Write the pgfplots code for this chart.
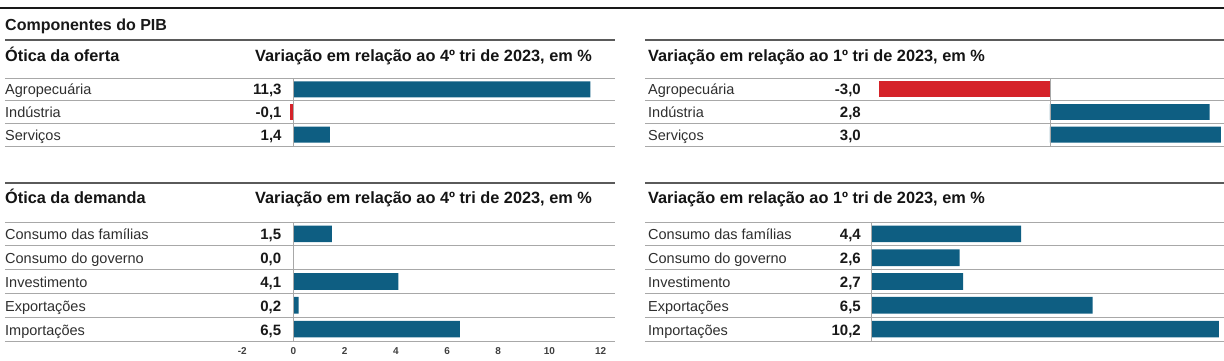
\documentclass[border=0pt]{standalone}
\usepackage{fontspec}
\setmainfont{Liberation Sans}
\usepackage{pgfplots}
\pgfplotsset{compat=1.18}
\definecolor{barblue}{HTML}{0E5E82}
\definecolor{barred}{HTML}{D52229}
\definecolor{rowrule}{HTML}{A8A8A8}
\definecolor{headrule}{HTML}{5A5A5A}
\definecolor{txt}{HTML}{2E2E2E}
\newcommand{\lbl}{\fontsize{14.5}{16}\selectfont\color{txt}}
\newcommand{\val}{\fontsize{15}{16}\selectfont\bfseries\color{black!90}}
\newcommand{\hdr}{\fontsize{16.3}{18}\selectfont\bfseries\color{black!92}}
\pgfplotsset{
  panel/.style={
    scale only axis, anchor=north west, y dir=reverse,
    xbar, bar width=0.7, bar shift=0pt,
    enlargelimits=false, clip=false,
    axis line style={draw=none}, major tick length=0pt,
    ymajorgrids, grid style={rowrule, line width=0.8pt},
    yticklabels={}, xtick=\empty,
  },
}
\begin{document}
\begin{tikzpicture}
\path[use as bounding box] (0pt,0pt) rectangle (1224pt,-360pt);
% title block
\draw[line width=2.8pt, black!90] (0pt,-8pt) -- (1224pt,-8pt);
\node[anchor=base west, inner sep=0pt] at (5pt,-30pt) {\fontsize{16}{18}\selectfont\bfseries\color{black!90}Componentes do PIB};
% header lines
\draw[headrule, line width=1.1pt] (5pt,-40pt) -- (615pt,-40pt);
\draw[headrule, line width=1.1pt] (645pt,-40pt) -- (1224pt,-40pt);
\draw[headrule, line width=1.1pt] (5pt,-183pt) -- (615pt,-183pt);
\draw[headrule, line width=1.1pt] (645pt,-183pt) -- (1224pt,-183pt);
\node[anchor=base west, inner sep=0pt] at (5pt,-61.5pt) {\hdr Ótica da oferta};
\node[anchor=base west, inner sep=0pt] at (255pt,-61.5pt) {\hdr Variação em relação ao 4º tri de 2023, em \%};
\node[anchor=base west, inner sep=0pt] at (648pt,-61.5pt) {\hdr Variação em relação ao 1º tri de 2023, em \%};
\node[anchor=base west, inner sep=0pt] at (5pt,-203pt) {\hdr Ótica da demanda};
\node[anchor=base west, inner sep=0pt] at (255pt,-203pt) {\hdr Variação em relação ao 4º tri de 2023, em \%};
\node[anchor=base west, inner sep=0pt] at (648pt,-203pt) {\hdr Variação em relação ao 1º tri de 2023, em \%};

% ---- top-left: oferta, vs 4o tri 2023
\begin{axis}[panel, at={(5pt,-78pt)}, width=610pt, height=68pt,
  xmin=-10.95, xmax=12.24, ymin=0.5, ymax=3.5, ytick={0.5,1.5,2.5,3.5}]
\addplot[fill=barblue, draw=none] coordinates {(11.3,1) (1.4,3)};
\addplot[fill=barred, draw=none] coordinates {(-0.1,2)};
\draw[rowrule, line width=0.8pt] (axis cs:0,0.5) -- (axis cs:0,3.5);
\node[anchor=base west, inner sep=0pt, yshift=-5.5pt] at (axis cs:-10.95,1) {\lbl Agropecuária};
\node[anchor=base west, inner sep=0pt, yshift=-5.5pt] at (axis cs:-10.95,2) {\lbl Indústria};
\node[anchor=base west, inner sep=0pt, yshift=-5.5pt] at (axis cs:-10.95,3) {\lbl Serviços};
\node[anchor=base east, inner sep=0pt, yshift=-5.5pt] at (axis cs:-0.43,1) {\val 11,3};
\node[anchor=base east, inner sep=0pt, yshift=-5.5pt] at (axis cs:-0.43,2) {\val -0,1};
\node[anchor=base east, inner sep=0pt, yshift=-5.5pt] at (axis cs:-0.43,3) {\val 1,4};
\end{axis}

% ---- top-right: oferta, vs 1o tri 2023
\begin{axis}[panel, at={(645pt,-78pt)}, width=579pt, height=68pt,
  xmin=-7.105, xmax=3.053, ymin=0.5, ymax=3.5, ytick={0.5,1.5,2.5,3.5}]
\addplot[fill=barblue, draw=none] coordinates {(2.8,2) (3.0,3)};
\addplot[fill=barred, draw=none] coordinates {(-3.0,1)};
\draw[rowrule, line width=0.8pt] (axis cs:0,0.5) -- (axis cs:0,3.5);
\node[anchor=base west, inner sep=0pt, xshift=3pt, yshift=-5.5pt] at (axis cs:-7.105,1) {\lbl Agropecuária};
\node[anchor=base west, inner sep=0pt, xshift=3pt, yshift=-5.5pt] at (axis cs:-7.105,2) {\lbl Indústria};
\node[anchor=base west, inner sep=0pt, xshift=3pt, yshift=-5.5pt] at (axis cs:-7.105,3) {\lbl Serviços};
\node[anchor=base east, inner sep=0pt, yshift=-5.5pt] at (axis cs:-3.316,1) {\val -3,0};
\node[anchor=base east, inner sep=0pt, yshift=-5.5pt] at (axis cs:-3.316,2) {\val 2,8};
\node[anchor=base east, inner sep=0pt, yshift=-5.5pt] at (axis cs:-3.316,3) {\val 3,0};
\end{axis}

% ---- bottom-left: demanda, vs 4o tri 2023
\begin{axis}[panel, at={(5pt,-222pt)}, width=610pt, height=119pt,
  xmin=-11.27, xmax=12.56, ymin=0.5, ymax=5.5, ytick={0.5,1.5,2.5,3.5,4.5,5.5},
  xtick={-2,0,2,4,6,8,10,12},
  xticklabel style={font=\fontsize{10}{11}\selectfont\bfseries, text=black!75, anchor=base, yshift=-13pt},
  /pgf/number format/assume math mode=true]
\addplot[fill=barblue, draw=none] coordinates {(1.5,1) (0.0,2) (4.1,3) (0.2,4) (6.5,5)};
\draw[rowrule, line width=0.8pt] (axis cs:0,0.5) -- (axis cs:0,5.5);
\node[anchor=base west, inner sep=0pt, yshift=-6pt] at (axis cs:-11.27,1) {\lbl Consumo das famílias};
\node[anchor=base west, inner sep=0pt, yshift=-6pt] at (axis cs:-11.27,2) {\lbl Consumo do governo};
\node[anchor=base west, inner sep=0pt, yshift=-6pt] at (axis cs:-11.27,3) {\lbl Investimento};
\node[anchor=base west, inner sep=0pt, yshift=-6pt] at (axis cs:-11.27,4) {\lbl Exportações};
\node[anchor=base west, inner sep=0pt, yshift=-6pt] at (axis cs:-11.27,5) {\lbl Importações};
\node[anchor=base east, inner sep=0pt, yshift=-6pt] at (axis cs:-0.47,1) {\val 1,5};
\node[anchor=base east, inner sep=0pt, yshift=-6pt] at (axis cs:-0.47,2) {\val 0,0};
\node[anchor=base east, inner sep=0pt, yshift=-6pt] at (axis cs:-0.47,3) {\val 4,1};
\node[anchor=base east, inner sep=0pt, yshift=-6pt] at (axis cs:-0.47,4) {\val 0,2};
\node[anchor=base east, inner sep=0pt, yshift=-6pt] at (axis cs:-0.47,5) {\val 6,5};
\end{axis}

% ---- bottom-right: demanda, vs 1o tri 2023
\begin{axis}[panel, at={(645pt,-222pt)}, width=579pt, height=119pt,
  xmin=-6.628, xmax=10.352, ymin=0.5, ymax=5.5, ytick={0.5,1.5,2.5,3.5,4.5,5.5}]
\addplot[fill=barblue, draw=none] coordinates {(4.4,1) (2.6,2) (2.7,3) (6.5,4) (10.2,5)};
\draw[rowrule, line width=0.8pt] (axis cs:0,0.5) -- (axis cs:0,5.5);
\node[anchor=base west, inner sep=0pt, xshift=3pt, yshift=-6pt] at (axis cs:-6.628,1) {\lbl Consumo das famílias};
\node[anchor=base west, inner sep=0pt, xshift=3pt, yshift=-6pt] at (axis cs:-6.628,2) {\lbl Consumo do governo};
\node[anchor=base west, inner sep=0pt, xshift=3pt, yshift=-6pt] at (axis cs:-6.628,3) {\lbl Investimento};
\node[anchor=base west, inner sep=0pt, xshift=3pt, yshift=-6pt] at (axis cs:-6.628,4) {\lbl Exportações};
\node[anchor=base west, inner sep=0pt, xshift=3pt, yshift=-6pt] at (axis cs:-6.628,5) {\lbl Importações};
\node[anchor=base east, inner sep=0pt, yshift=-6pt] at (axis cs:-0.293,1) {\val 4,4};
\node[anchor=base east, inner sep=0pt, yshift=-6pt] at (axis cs:-0.293,2) {\val 2,6};
\node[anchor=base east, inner sep=0pt, yshift=-6pt] at (axis cs:-0.293,3) {\val 2,7};
\node[anchor=base east, inner sep=0pt, yshift=-6pt] at (axis cs:-0.293,4) {\val 6,5};
\node[anchor=base east, inner sep=0pt, yshift=-6pt] at (axis cs:-0.293,5) {\val 10,2};
\end{axis}
\end{tikzpicture}
\end{document}
